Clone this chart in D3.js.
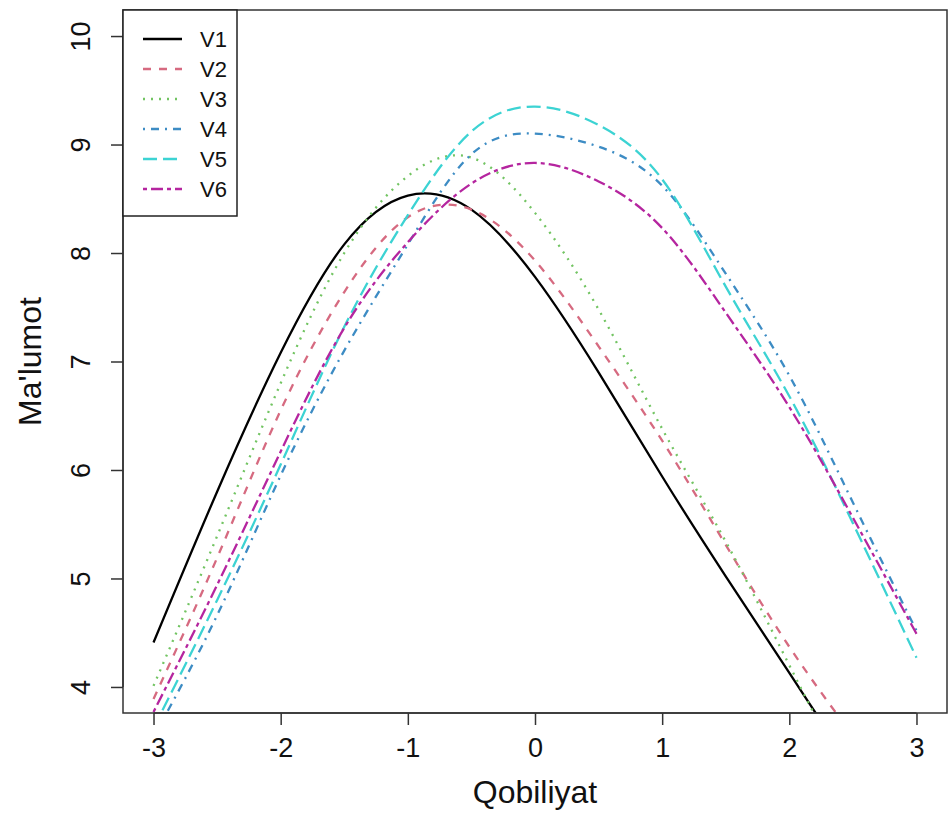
<!DOCTYPE html>
<html>
<head>
<meta charset="utf-8">
<script src="https://cdn.jsdelivr.net/npm/d3@7"></script>
<style>
  body { margin: 0; background: #fff; }
  svg { display: block; font-family: "Liberation Sans", Arial, sans-serif; }
</style>
</head>
<body>
<svg width="952" height="818"></svg>
<script>
// ability grid and information curves
const theta = [-3, -2.5, -2, -1.5, -1, -0.5, 0, 0.5, 1, 1.5, 2, 2.5, 3];
const V1 = [4.41, 5.80, 7.08, 8.08, 8.53, 8.40, 7.78, 6.90, 5.94, 5.02, 4.13, 3.25, 2.45];
const V2 = [3.89, 5.19, 6.55, 7.64, 8.33, 8.40, 7.93, 7.14, 6.27, 5.31, 4.37, 3.55, 2.75];
const V3 = [4.01, 5.39, 6.80, 8.00, 8.71, 8.88, 8.37, 7.48, 6.38, 5.34, 4.20, 3.10, 2.20];
const V4 = [3.54, 4.66, 5.95, 7.10, 8.08, 8.91, 9.10, 8.98, 8.62, 7.81, 6.87, 5.70, 4.52];
const V5 = [3.62, 4.80, 6.05, 7.32, 8.35, 9.12, 9.35, 9.18, 8.68, 7.69, 6.68, 5.51, 4.27];
const V6 = [3.77, 4.94, 6.17, 7.31, 8.10, 8.64, 8.83, 8.66, 8.23, 7.45, 6.58, 5.56, 4.49];

const names = ["V1", "V2", "V3", "V4", "V5", "V6"];
const colors = ["#000000", "#D66A80", "#72c462", "#3d8cc4", "#3cd3d3", "#b5259f"];
const dashes = [null, "8,8", "2,6", "2,6,8,6", "14,6", "4,4,12,4"];
const xTicks = [-3, -2, -1, 0, 1, 2, 3];
const yTicks = [4, 5, 6, 7, 8, 9, 10];

const series = [V1, V2, V3, V4, V5, V6];

const svg = d3.select("svg");
const pl = 123, pr = 947, pt = 10, pb = 713;

// R style 4% padding around xlim / ylim
const x = d3.scaleLinear().domain([-3.24, 3.24]).range([pl, pr]);
const y = d3.scaleLinear().domain([3.76, 10.24]).range([pb, pt]);

svg.append("defs").append("clipPath").attr("id", "plotclip")
  .append("rect")
  .attr("x", pl).attr("y", pt)
  .attr("width", pr - pl).attr("height", pb - pt);

const line = d3.line()
  .x(d => x(d[0]))
  .y(d => y(d[1]))
  .curve(d3.curveNatural);

const lines = svg.append("g").attr("clip-path", "url(#plotclip)");
series.forEach((s, i) => {
  lines.append("path")
    .datum(theta.map((t, j) => [t, s[j]]))
    .attr("d", line)
    .attr("fill", "none")
    .attr("stroke", colors[i])
    .attr("stroke-width", 2.3)
    .attr("stroke-dasharray", dashes[i]);
});

// box
svg.append("rect")
  .attr("x", pl).attr("y", pt)
  .attr("width", pr - pl).attr("height", pb - pt)
  .attr("fill", "none").attr("stroke", "#333").attr("stroke-width", 1.5);

// axes
const fmt = d => String(d);
const xAxis = d3.axisBottom(x).tickValues(xTicks).tickFormat(fmt).tickSize(12).tickPadding(13);
const gx = svg.append("g").attr("transform", "translate(0," + pb + ")").call(xAxis);
gx.select(".domain").attr("d", "M" + x(-3) + ",0H" + x(3)).attr("stroke", "#333").attr("stroke-width", 1.5);
gx.selectAll(".tick line").attr("stroke", "#333").attr("stroke-width", 1.5);
gx.selectAll(".tick text").attr("font-size", 27).attr("fill", "#111").attr("font-family", "Liberation Sans, Arial, sans-serif");

const yAxis = d3.axisLeft(y).tickValues(yTicks).tickFormat(fmt).tickSize(12);
const gy = svg.append("g").attr("transform", "translate(" + pl + ",0)").call(yAxis);
gy.select(".domain").attr("d", "M0," + y(4) + "V" + y(10)).attr("stroke", "#333").attr("stroke-width", 1.5);
gy.selectAll(".tick line").attr("stroke", "#333").attr("stroke-width", 1.5);
gy.selectAll(".tick text")
  .attr("font-size", 27).attr("fill", "#111")
  .attr("font-family", "Liberation Sans, Arial, sans-serif")
  .attr("x", null).attr("dy", null)
  .attr("text-anchor", "middle")
  .attr("transform", "translate(-33,0) rotate(-90)");

// axis titles
svg.append("text")
  .attr("x", (pl + pr) / 2).attr("y", 803)
  .attr("text-anchor", "middle")
  .attr("font-size", 32).attr("fill", "#111")
  .text("Qobiliyat");

svg.append("text")
  .attr("transform", "translate(41," + (pt + pb) / 2 + ") rotate(-90)")
  .attr("text-anchor", "middle")
  .attr("font-size", 32).attr("fill", "#111")
  .text("Ma'lumot");

// legend
const legend = svg.append("g");
legend.append("rect")
  .attr("x", pl).attr("y", pt)
  .attr("width", 114).attr("height", 206)
  .attr("fill", "#fff").attr("stroke", "#222").attr("stroke-width", 1.5);

names.forEach((n, i) => {
  const ly = 39 + i * 30;
  legend.append("line")
    .attr("x1", 143).attr("x2", 182)
    .attr("y1", ly).attr("y2", ly)
    .attr("stroke", colors[i]).attr("stroke-width", 2.3)
    .attr("stroke-dasharray", dashes[i]);
  legend.append("text")
    .attr("x", 200).attr("y", ly + 8)
    .attr("font-size", 22).attr("fill", "#111")
    .text(n);
});
</script>
</body>
</html>
